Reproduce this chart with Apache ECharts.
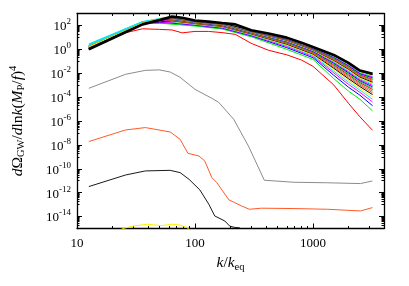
<!DOCTYPE html>
<html><head><meta charset="utf-8">
<script src="https://cdn.jsdelivr.net/npm/echarts@6/dist/echarts.min.js"></script>
<style>html,body{margin:0;padding:0;background:#fff}#c{width:409px;height:286px}</style>
</head><body><div id="c"></div>
<script>
// ---- data: log10 of dOmega_GW/dlnk (M_P/f)^4 ----
const xTickLabels = [10, 100, 1000];
const yTickExponents = [2, 0, -2, -4, -6, -8, -10, -12, -14];

// early, weak spectra (own k samples)
const kYellow = [12.6, 20, 24.4, 30, 39.5, 52, 64, 75, 85, 95, 110];
const logYellow = [-17, -15.6, -15.0, -14.8, -14.64, -14.76, -14.64, -14.72, -14.9, -15.3, -16.5];
const kDark = [12.6, 25.8, 38, 61.6, 74.8, 89, 110, 131, 147, 179, 197, 215, 240, 270];
const logDark = [-11.49, -10.52, -10.18, -10.13, -10.32, -10.88, -11.77, -12.97, -13.95, -14.37, -14.8, -14.9, -14.95, -16];
const kOrange = [12.6, 25.8, 38, 61.6, 74.8, 87, 108, 121, 139, 153, 194, 217, 248, 289, 366, 692, 1335, 2530, 3190];
const logOrange = [-7.72, -6.75, -6.55, -6.92, -7.53, -8.7, -8.93, -9.35, -10.74, -11.16, -12.61, -12.83, -13.11, -13.39, -13.3, -13.33, -13.39, -13.53, -13.25];
const kGray = [12.6, 25.8, 38, 50, 61.6, 74.8, 100, 139, 159, 213, 284, 387, 692, 1300, 2530, 3190];
const logGray = [-3.26, -2.09, -1.76, -1.72, -1.9, -2.34, -3.35, -4.1, -4.44, -5.86, -8.1, -10.96, -11.13, -11.17, -11.24, -11.02];

// red (first of the main bundle) and final thick black
const kFull = [12.6, 20, 26, 36, 50, 64, 78, 100, 130, 170, 220, 300, 420, 600, 800, 1000, 1500, 2000, 2500, 3200];
const logRed = [0.08, 0.94, 1.4, 1.72, 1.67, 1.62, 1.38, 1.5, 1.5, 1.4, 1.25, 0.5, -0.08, -0.46, -0.9, -1.42, -2.98, -4.52, -5.65, -6.78];
const logFinal = [0.0, 0.93, 1.45, 2.09, 2.45, 2.74, 2.65, 2.42, 2.32, 2.2, 2.09, 1.6, 1.32, 0.98, 0.56, 0.19, -0.47, -1.13, -1.78, -2.05];

// intermediate bundle spectra
const kBundle = [12.6, 20, 36, 50, 64, 100, 170, 300, 600, 1000, 1500, 2000, 2500, 3200];
const bundle01 = [0.25,1.12,2.23,2.2,2.1,1.95,1.7,1.05,0.0,-0.84,-2.45,-3.5,-4.18,-5.16];
const bundle02 = [0.3,1.16,2.26,2.27,2.19,2.02,1.77,1.13,0.14,-0.7,-2.17,-3.17,-3.84,-4.72];
const bundle03 = [0.05,0.97,2.12,2.2,2.25,2.06,1.82,1.18,0.24,-0.59,-1.97,-2.93,-3.6,-4.41];
const bundle04 = [0.45,1.28,2.33,2.43,2.3,2.1,1.86,1.22,0.31,-0.52,-1.83,-2.75,-3.42,-4.18];
const bundle05 = [0.35,1.2,2.29,2.39,2.34,2.13,1.89,1.26,0.37,-0.45,-1.7,-2.6,-3.27,-3.98];
const bundle06 = [0.15,1.04,2.17,2.31,2.38,2.16,1.92,1.29,0.43,-0.39,-1.58,-2.46,-3.12,-3.79];
const bundle07 = [0.3,1.16,2.26,2.41,2.41,2.18,1.94,1.32,0.48,-0.34,-1.48,-2.34,-3.0,-3.64];
const bundle08 = [0.25,1.12,2.23,2.41,2.44,2.2,1.97,1.34,0.52,-0.29,-1.39,-2.23,-2.9,-3.5];
const bundle09 = [0.2,1.08,2.2,2.38,2.47,2.22,1.99,1.37,0.57,-0.24,-1.3,-2.13,-2.79,-3.36];
const bundle10 = [0.3,1.16,2.26,2.45,2.49,2.24,2.01,1.39,0.6,-0.21,-1.23,-2.04,-2.71,-3.25];
const bundle11 = [0.25,1.12,2.23,2.45,2.52,2.26,2.02,1.41,0.64,-0.17,-1.16,-1.96,-2.62,-3.14];
const bundle12 = [0.05,0.97,2.12,2.36,2.54,2.27,2.04,1.43,0.67,-0.13,-1.09,-1.88,-2.54,-3.03];
const bundle13 = [0.42,1.25,2.32,2.55,2.56,2.29,2.06,1.44,0.7,-0.1,-1.03,-1.8,-2.46,-2.93];
const bundle14 = [0.3,1.16,2.26,2.5,2.58,2.3,2.07,1.46,0.73,-0.07,-0.97,-1.73,-2.39,-2.84];
const bundle15 = [0.1,1.01,2.15,2.41,2.6,2.31,2.09,1.48,0.76,-0.04,-0.92,-1.66,-2.32,-2.75];
const bundle16 = [0.25,1.12,2.23,2.5,2.61,2.33,2.1,1.49,0.78,-0.02,-0.87,-1.6,-2.26,-2.67];
const bundle17 = [0.2,1.08,2.2,2.49,2.63,2.34,2.11,1.5,0.81,0.01,-0.81,-1.54,-2.2,-2.59];
const bundle18 = [0.15,1.04,2.17,2.48,2.65,2.35,2.13,1.52,0.83,0.04,-0.76,-1.48,-2.14,-2.51];
const bundle19 = [0.2,1.08,2.2,2.51,2.66,2.36,2.14,1.53,0.86,0.06,-0.72,-1.43,-2.08,-2.44];
const bundle20 = [0.15,1.04,2.17,2.49,2.67,2.37,2.15,1.54,0.88,0.08,-0.67,-1.37,-2.03,-2.37];
const bundle21 = [0.05,0.97,2.12,2.44,2.69,2.38,2.16,1.56,0.9,0.11,-0.63,-1.32,-1.97,-2.3];
const bundle22 = [0.35,1.2,2.29,2.59,2.7,2.39,2.17,1.57,0.92,0.13,-0.59,-1.27,-1.93,-2.24];
const bundle23 = [0.2,1.08,2.2,2.54,2.71,2.4,2.18,1.58,0.94,0.15,-0.55,-1.23,-1.88,-2.18];
const bundle24 = [0.05,0.97,2.12,2.46,2.73,2.41,2.19,1.59,0.96,0.17,-0.51,-1.18,-1.83,-2.12];

// gnuplot postscript colour cycle
const cycle = ['#ff0000','#00ee00','#0000ff','#ff00ff','#00e5ff','#ffee00','#000000','#ff4d00','#808080'];

const bundles = [bundle01,bundle02,bundle03,bundle04,bundle05,bundle06,bundle07,bundle08,bundle09,bundle10,bundle11,bundle12,
  bundle13,bundle14,bundle15,bundle16,bundle17,bundle18,bundle19,bundle20,bundle21,bundle22,bundle23,bundle24];

function pts(ks, logs){ return ks.map((k,i)=>[k, Math.pow(10, logs[i])]); }
function line(data, color, width){
  return {type:'line', data, xAxisIndex:0, yAxisIndex:0, symbol:'none', silent:true,
    lineStyle:{color, width}, clip:true, animation:false};
}

const series = [];
series.push(line(pts(kYellow, logYellow), '#ffee00', 1));
series.push(line(pts(kDark, logDark), '#000000', 0.9));
series.push(line(pts(kOrange, logOrange), '#ff5a26', 1));
series.push(line(pts(kGray, logGray), '#8c8c8c', 1));
series.push(line(pts(kFull, logRed), '#ff0000', 1));
bundles.forEach((b,i)=>{ series.push(line(pts(kBundle, b), cycle[(i+1)%9], 1)); });
series.push(line(pts(kFull, logFinal), '#000000', 2.6));

// tick positions (in decades) for helper tick axes
const XMIN = 10, XMAX = 4000;
const xMajorExp = [1, 2, 3];
const xMinorExp = []; [10,100,1000].forEach(d=>{ for(let m=2;m<=9;m++){ if(d*m<XMAX) xMinorExp.push(Math.log10(d*m));} });
const yMajorExp = yTickExponents.slice();
const yMinorExp = []; for(let e=-15;e<=1;e+=2){ for(let m=1;m<=9;m++){ const v=Math.log10(m)+e; if(v>-15 && v<3) yMinorExp.push(v);} }

const FONT = 'Liberation Serif';
const rich = {
  b:{fontFamily:FONT, fontSize:13, color:'#000', lineHeight:16, verticalAlign:'bottom'},
  s:{fontFamily:FONT, fontSize:9, color:'#000', lineHeight:16, verticalAlign:'top', padding:[0,0,7,0]},
  i:{fontFamily:FONT, fontStyle:'italic', fontSize:15.5, color:'#000'},
  u:{fontFamily:FONT, fontSize:15.5, color:'#000'},
  sub:{fontFamily:FONT, fontSize:10.5, color:'#000', padding:[7,0,0,0]},
  sup:{fontFamily:FONT, fontSize:10.5, color:'#000', padding:[0,0,9,0]}
};

const axisLine = {show:true, onZero:false, lineStyle:{color:'#000', width:1.3}};
const noLine = {show:false, onZero:false};
const noTick = {show:false};
const mainX = {type:'log', logBase:10, min:XMIN, max:XMAX, position:'bottom',
  axisLine, splitLine:{show:false}, axisTick:noTick,
  axisLabel:{show:true, customValues:xTickLabels, margin:9, fontFamily:FONT, fontSize:13, color:'#000',
    formatter:(v)=>String(Math.round(v))},
  name:'{i|k}{u|/}{i|k}{sub|eq}', nameLocation:'middle', nameGap:23,
  nameTextStyle:{rich, fontFamily:FONT, fontSize:14, color:'#000'}};
const mainY = {type:'log', logBase:10, min:1e-15, max:1e3, position:'left',
  axisLine, splitLine:{show:false}, axisTick:noTick,
  axisLabel:{show:true, customValues:yTickExponents.map(e=>Math.pow(10,e)), margin:6, rich,
    formatter:(v)=>'{b|10}{s|'+Math.round(Math.log10(v))+'}'},
  name:'{i|d}{u|Ω}{sub|GW}{u|/}{i|d}{u|ln}{i|k}{u|(}{i|M}{sub|P}{u|/}{i|f}{u|)}{sup|4}',
  nameLocation:'middle', nameGap:49, nameRotate:90,
  nameTextStyle:{rich, fontFamily:FONT, fontSize:14, color:'#000'}};

function tickAxis(dim, pos, exps, len, showLine){
  const ax = {type:'value', position:pos, splitLine:{show:false}, axisLabel:{show:false},
    axisLine: showLine ? axisLine : noLine,
    axisTick:{show:true, inside:true, length:len, customValues:exps, lineStyle:{color:'#000', width:1}}};
  if(dim==='x'){ ax.min = Math.log10(XMIN); ax.max = Math.log10(XMAX); }
  else { ax.min = -15; ax.max = 3; }
  return ax;
}

const option = {
  animation:false,
  backgroundColor:'#fff',
  grid:{left:75, right:25, top:13.5, bottom:57.5, containLabel:false},
  xAxis:[mainX,
    tickAxis('x','bottom',xMajorExp,5,false), tickAxis('x','bottom',xMinorExp,2.5,false),
    tickAxis('x','top',xMajorExp,5,true), tickAxis('x','top',xMinorExp,2.5,false)],
  yAxis:[mainY,
    tickAxis('y','left',yMajorExp,5,false), tickAxis('y','left',yMinorExp,2.5,false),
    tickAxis('y','right',yMajorExp,5,true), tickAxis('y','right',yMinorExp,2.5,false)],
  series
};
const chart = echarts.init(document.getElementById('c'), null, {renderer:'canvas'});
chart.setOption(option);
</script>
</body></html>
